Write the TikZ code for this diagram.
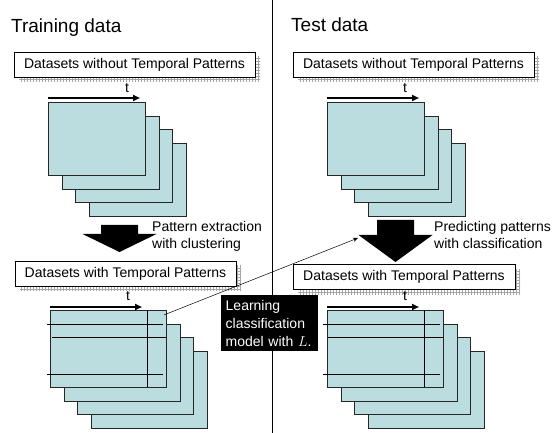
\documentclass[tikz,border=0pt]{standalone}
\usepackage{fontspec}
\setmainfont{Liberation Sans}
\usetikzlibrary{calc,patterns,shadows,arrows.meta}
\definecolor{sheetblue}{RGB}{187,221,224}
\tikzset{
	setbox/.style={draw=black, fill=white, line width=0.8pt, inner sep=0pt, minimum height=25, font=\fontsize{14}{17}\selectfont, general shadow={shadow xshift=5pt, shadow yshift=-5pt, pattern=grid, pattern color=gray!70}},
	sheet/.style={draw=black!85, fill=sheetblue, line width=0.8pt, anchor=north west, inner sep=0pt},
	timearrow/.style={line width=2pt, -{Triangle[length=7pt,width=6pt]}},
	leader/.style={line width=0.5pt, -{Stealth[length=5pt,width=4pt]}},
	caption/.style={anchor=north west, align=left, inner sep=0pt, font=\fontsize{14}{17.5}\selectfont},
	heading/.style={anchor=base west, inner sep=0pt, font=\fontsize{19}{22}\selectfont},
	tlabel/.style={anchor=base, inner sep=0pt, font=\fontsize{14}{17}\selectfont},
	notebox/.style={anchor=north west, fill=black, text=white, align=left, inner xsep=4.5pt, inner ysep=5pt, text width=88, minimum height=55, font=\fontsize{14}{18}\selectfont},
}
% stack of four sheets: x, y, width, height, name
\newcommand{\sheetstack}[5]{
	\foreach \k in {3,2,1,0} {
		\node[sheet, minimum width=#3, minimum height=#4] (#5-\k) at ({#1+13.7*\k},{#2+13.7*\k}) {};
	}
}
% block arrow: centre x, top, head base, tip
\newcommand{\blockarrow}[4]{
	\fill (#1-18.5,#2) -- (#1+18.5,#2) -- (#1+18.5,#3) -- (#1+37,#3) -- (#1,#4) -- (#1-37,#3) -- (#1-18.5,#3) -- cycle;
}

\begin{document}
\begin{tikzpicture}[x=1pt, y=-1pt]
		%%%%% START %%%%%
		\useasboundingbox (0,0) rectangle (555,433);
		
		\coordinate (divtop) at (272,0);
		\coordinate (divbot) at (272,433);
		\draw[line width=0.8pt] (divtop) -- (divbot);
		
		\node[heading] (trainhead) at (11,33) {Training data};
		\node[heading] (testhead) at (291,32) {Test data};
		
		%% training side
		\node[setbox, minimum width=241] (trainraw) at (134.5,64.5) {Datasets without Temporal Patterns};
		\node[tlabel] (traintA) at (127,93) {t};
		\coordinate (trainA1) at (48,98);
		\coordinate (trainA2) at (140,98);
		\draw[timearrow] (trainA1) -- (trainA2);
		\sheetstack{48}{102}{97}{73}{trainraw}
		
		\blockarrow{119.5}{225}{234}{252}
		\node[caption] (extract) at (152,221) {Pattern extraction\\with clustering};
		
		\node[setbox, minimum width=221] (trainpat) at (125.5,273.5) {Datasets with Temporal Patterns};
		\node[tlabel] (traintB) at (128,301) {t};
		\coordinate (trainB1) at (50,307);
		\coordinate (trainB2) at (142,307);
		\draw[timearrow] (trainB1) -- (trainB2);
		\sheetstack{50}{310}{116}{77}{trainpat}
		\draw[line width=0.8pt] (47,324) -- (163,324);
		\draw[line width=0.8pt] (52,337) -- (167,337);
		\draw[line width=0.8pt] (47,374) -- (163,374);
		\draw[line width=0.8pt] (147,310) -- (147,387);
		
		%% test side
		\node[setbox, minimum width=241] (testraw) at (413.5,64.5) {Datasets without Temporal Patterns};
		\node[tlabel] (testtA) at (405,93) {t};
		\coordinate (testA1) at (327,98);
		\coordinate (testA2) at (419,98);
		\draw[timearrow] (testA1) -- (testA2);
		\sheetstack{327}{102}{97}{73}{testraw}
		
		\blockarrow{395.5}{220}{235}{262}
		\node[caption] (predict) at (434,221) {Predicting patterns\\with classification};
		
		\node[setbox, minimum width=222] (testpat) at (404,277) {Datasets with Temporal Patterns};
		\node[tlabel] (testtB) at (405,301) {t};
		\coordinate (testB1) at (327,307);
		\coordinate (testB2) at (419,307);
		\draw[timearrow] (testB1) -- (testB2);
		\sheetstack{327}{310}{116}{77}{testpat}
		\draw[line width=0.8pt] (323,324) -- (440,324);
		\draw[line width=0.8pt] (328,337) -- (444,337);
		\draw[line width=0.8pt] (323,374) -- (440,374);
		\draw[line width=0.8pt] (424,310) -- (424,387);
		
		%% learned model
		\coordinate (leadstart) at ($(trainpat-0.north east)+(-3,5)$);
		\coordinate (leadend) at (358,238);
		\draw[leader] (leadstart) -- (leadend);
		\node[notebox] (learnnote) at (221,295) {Learning\\classification\\model with $L$.};
		
		%%%%% END %%%%%
	\end{tikzpicture}
\end{document}
